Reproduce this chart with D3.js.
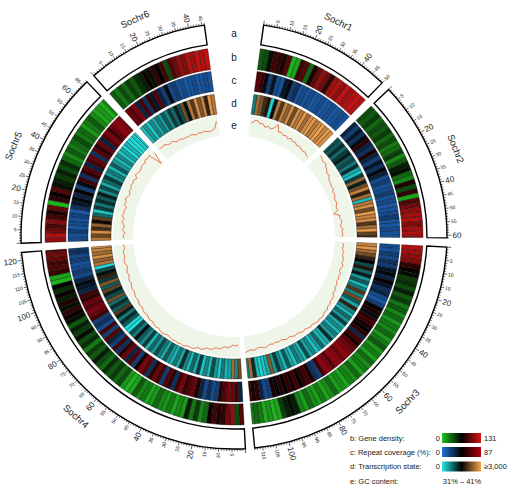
<!DOCTYPE html>
<html>
<head>
<meta charset="utf-8">
<script src="https://cdn.jsdelivr.net/npm/d3@7"></script>
<style>
  body { margin: 0; background: #fff; }
  svg text { font-family: "Liberation Sans", Arial, Helvetica, sans-serif; fill: #1a1a1a; }
</style>
</head>
<body>
<svg id="chart" width="512" height="494"></svg>
<script>
// chromosomes (Mb) and 2 Mb bins
const chromNames = ["Sochr1", "Sochr2", "Sochr3", "Sochr4", "Sochr5", "Sochr6"];
const chromLengths = [50, 61, 113, 123, 67, 46];
const binSize = 2;

// b: gene density (0-131), one list per chromosome
const geneDensity = [
  [35, 40, 60, 85, 80, 75, 90, 5, 10, 85, 90, 30, 75, 95, 110, 100, 80, 115, 120, 110, 125, 115, 120, 125, 120],
  [40, 35, 45, 30, 40, 35, 45, 30, 40, 25, 30, 45, 20, 35, 55, 60, 30, 20, 75, 40, 80, 10, 90, 100, 110, 115, 120, 105, 115, 120, 110],
  [120, 115, 110, 105, 80, 70, 60, 45, 50, 40, 55, 35, 45, 25, 35, 20, 30, 15, 25, 20, 30, 15, 25, 35, 15, 25, 12, 30, 18, 25, 12, 30, 18, 22, 10, 18, 12, 30, 18, 10, 25, 12, 18, 30, 12, 22, 55, 60, 55, 45, 10, 5, 15, 8, 25, 30, 20],
  [90, 40, 110, 100, 80, 75, 85, 70, 30, 20, 45, 25, 55, 15, 20, 10, 25, 15, 20, 30, 15, 10, 25, 20, 35, 10, 5, 15, 40, 30, 45, 35, 50, 30, 40, 55, 35, 45, 25, 50, 40, 60, 45, 55, 35, 60, 70, 80, 60, 75, 55, 70, 50, 65, 5, 10, 80, 90, 85, 95, 100, 90],
  [110, 120, 100, 90, 105, 85, 75, 95, 5, 80, 70, 90, 60, 55, 45, 55, 40, 50, 30, 20, 35, 25, 30, 40, 25, 30, 15, 25, 35, 20, 10, 15, 8, 20],
  [35, 25, 40, 30, 45, 35, 50, 55, 70, 60, 80, 65, 85, 40, 90, 100, 110, 105, 120, 115, 125, 120, 125]
];

// c: repeat coverage (%) (0-87)
const repeatCoverage = [
  [65, 60, 40, 20, 35, 15, 12, 35, 40, 20, 25, 12, 15, 12, 15, 10, 12, 15, 10, 12, 14, 10, 12, 15, 12],
  [30, 20, 35, 25, 40, 55, 30, 25, 50, 30, 20, 35, 25, 40, 30, 15, 20, 12, 15, 20, 12, 15, 10, 12, 15, 20, 12, 10, 15, 12, 10],
  [15, 12, 20, 15, 25, 20, 35, 40, 30, 45, 35, 25, 30, 15, 10, 20, 45, 50, 40, 55, 60, 50, 45, 55, 30, 60, 50, 65, 70, 75, 80, 70, 78, 80, 65, 75, 80, 60, 20, 25, 50, 60, 55, 45, 60, 50, 55, 45, 55, 40, 50, 20, 15, 30, 55, 50, 60],
  [30, 60, 70, 75, 65, 55, 20, 15, 25, 15, 30, 50, 70, 65, 55, 75, 60, 25, 55, 65, 20, 60, 70, 55, 25, 65, 75, 50, 20, 65, 30, 70, 55, 25, 60, 20, 30, 65, 20, 60, 15, 25, 20, 60, 70, 75, 65, 70, 55, 60, 30, 35, 40, 30, 15, 20, 15, 12, 20, 15, 25, 20],
  [15, 12, 20, 10, 15, 12, 18, 10, 25, 35, 40, 30, 45, 20, 40, 60, 25, 55, 65, 30, 60, 70, 25, 65, 55, 70, 30, 65, 75, 60, 70, 80, 75, 70],
  [70, 65, 75, 30, 60, 25, 55, 35, 65, 30, 20, 40, 15, 20, 12, 15, 10, 12, 15, 10, 12, 15, 12]
];

// d: transcription state (0 - >=3000)
const transcription = [
  [700, 2500, 2300, 1900, 1700, 100, 1400, 2600, 2000, 2700, 2400, 2800, 2200, 2800, 2600, 2900, 2500, 2800, 2900, 2600, 2800, 3000, 2700, 2900, 2800],
  [1000, 900, 1200, 800, 1100, 1300, 900, 1000, 700, 1200, 400, 200, 1100, 2400, 1300, 2200, 2700, 1800, 2500, 300, 2600, 2800, 2200, 2900, 2700, 2800, 2000, 2500, 2900, 2100, 1900],
  [2700, 2900, 2500, 2200, 1800, 1500, 1000, 1700, 800, 1300, 500, 900, 300, 700, 2000, 600, 2200, 900, 400, 1800, 600, 300, 800, 500, 1100, 400, 600, 300, 700, 500, 1200, 400, 300, 800, 500, 200, 600, 400, 1000, 300, 500, 700, 200, 400, 900, 300, 600, 1100, 500, 2300, 400, 200, 100, 300, 1200, 2500, 600],
  [2200, 600, 2500, 400, 300, 700, 200, 500, 1000, 300, 600, 200, 1100, 400, 800, 300, 600, 1200, 400, 700, 300, 500, 900, 400, 700, 1000, 500, 800, 300, 1100, 600, 900, 1400, 700, 1000, 50, 100, 900, 1200, 700, 1300, 2000, 900, 1200, 800, 2200, 1000, 1300, 2100, 900, 2300, 1100, 1800, 1400, 1000, 100, 2600, 2400, 2800, 2500, 2700, 2900],
  [2600, 2200, 2800, 1900, 2400, 1600, 2100, 800, 200, 1100, 700, 1200, 900, 1300, 600, 1000, 400, 800, 1100, 500, 700, 300, 900, 500, 300, 600, 200, 400, 100, 300, 100, 50, 200, 100],
  [300, 500, 200, 600, 400, 700, 500, 900, 600, 1100, 800, 1300, 1000, 2200, 1400, 2600, 2000, 2800, 2300, 2700, 1800, 2900, 2600]
];

// e: GC content (%)
const gcContent = [
  [37.5, 39, 39.5, 38, 38.5, 37, 38, 37, 38, 40.5, 37, 37.5, 36.5, 37, 36, 37, 36, 36.5, 35.5, 36, 35.5, 35, 35.5, 34.5, 34.5],
  [39.5, 39, 38.5, 39, 38, 37.5, 36.5, 37, 36, 35.5, 35.5, 35, 35.5, 34.5, 35, 34.5, 34, 34.5, 34, 33.5, 34, 31.5, 34.5, 34, 35, 34.5, 34, 35, 34.5, 35, 34.5],
  [35, 35.5, 35, 36, 35.5, 36, 36.5, 36, 37, 36.5, 36, 37, 36.5, 37, 36.5, 37.5, 37, 38, 37.5, 38.5, 39, 38.5, 39.5, 39, 40, 39.5, 40, 40.5, 40, 40.5, 40, 39.5, 40, 39.5, 39, 39.5, 39, 38.5, 39, 38.5, 38, 38.5, 38, 37.5, 38, 37.5, 38, 37.5, 38, 38.5, 38, 37.5, 38, 38.5, 38, 38.5, 39],
  [35, 35.5, 35, 36, 36.5, 36, 37, 37.5, 37, 38, 38.5, 38, 39, 39.5, 39, 40, 40.5, 40, 40.5, 41, 40.5, 41, 40.5, 41, 40.5, 40, 40.5, 41, 40.5, 40, 40.5, 40, 39.5, 40, 39.5, 39, 39.5, 39, 38.5, 39, 38.5, 38, 38.5, 38, 37.5, 38, 37.5, 37, 37.5, 37, 36.5, 37, 36.5, 36, 36.5, 37, 36.5, 36, 36.5, 36, 35.5, 36],
  [35.5, 36, 35, 36.5, 35.5, 36, 37, 36, 37.5, 36.5, 37, 36, 37.5, 37, 38, 37, 36.5, 37.5, 37, 38, 37.5, 38, 37, 38.5, 38, 37.5, 38, 38.5, 38, 39, 38.5, 39, 32, 38],
  [38, 37.5, 38, 37, 36.5, 37, 36, 35.5, 36, 35, 35.5, 35, 35.5, 35, 34.5, 35, 34.5, 35, 34.5, 34, 34.5, 35, 38.5]
];

const trackLetters = ["a", "b", "c", "d", "e"];
const legendLabels = ["b: Gene density:", "c: Repeat coverage (%):", "d: Transcription state:", "e: GC content:"];
const legendMin = ["0", "0", "0"];
const legendMax = ["131", "87", "\u22653,000"];
const gcRangeLabel = "31% \u2013 41%";

// ---- layout ----
const svg = d3.select("#chart");
const cx = 234, cy = 236;
const topGap = 16, chromGap = 2.5;           // degrees
const ideo = { r0: 193, r1: 213 };
const rad = d => d * Math.PI / 180;

const total = d3.sum(chromLengths);
const degPerMb = (360 - topGap - chromGap * (chromLengths.length - 1)) / total;

let start = topGap / 2;
const chroms = chromNames.map((name, i) => {
  const len = chromLengths[i];
  const end = start + len * degPerMb;
  const c = { name, len, i, a0: start, a1: end, angle: d3.scaleLinear().domain([0, len]).range([start, end]) };
  start = end + chromGap;
  return c;
});

const tracks = [
  { data: geneDensity, r0: 168, r1: 189,
    color: d3.scaleLinear().domain([0, 65.5, 131]).range(["#1fc41f", "#000000", "#d71414"]).clamp(true) },
  { data: repeatCoverage, r0: 146, r1: 166,
    color: d3.scaleLinear().domain([0, 43.5, 87]).range(["#1f72d8", "#000000", "#b3000f"]).clamp(true) },
  { data: transcription, r0: 123, r1: 143,
    color: d3.scaleLinear().domain([0, 1500, 3000]).range(["#22e6e6", "#000000", "#f7a44e"]).clamp(true) }
];
const gcTrack = { r0: 101, r1: 121 };
const gcRadius = d3.scaleLinear().domain([31, 41]).range([gcTrack.r0, gcTrack.r1]);

const g = svg.append("g").attr("transform", `translate(${cx},${cy})`);
const arc = d3.arc();

// ideogram boxes
g.selectAll(".ideo").data(chroms).enter().append("path")
  .attr("d", c => arc({ innerRadius: ideo.r0, outerRadius: ideo.r1, startAngle: rad(c.a0), endAngle: rad(c.a1) }))
  .attr("fill", "#fff").attr("stroke", "#000").attr("stroke-width", 1.4);

// heatmap tracks
tracks.forEach(t => {
  chroms.forEach(c => {
    const vals = t.data[c.i];
    g.append("g").selectAll("path").data(vals).enter().append("path")
      .attr("d", (v, j) => arc({
        innerRadius: t.r0, outerRadius: t.r1,
        startAngle: rad(c.angle(j * binSize)),
        endAngle: rad(c.angle(Math.min((j + 1) * binSize, c.len)))
      }))
      .attr("fill", v => t.color(v))
      .attr("stroke", "#000").attr("stroke-width", 0.35);
  });
});

// GC content track
chroms.forEach(c => {
  g.append("path")
    .attr("d", arc({ innerRadius: gcTrack.r0, outerRadius: gcTrack.r1, startAngle: rad(c.a0), endAngle: rad(c.a1) }))
    .attr("fill", "#edf6e8");
  const line = d3.lineRadial()
    .angle((v, j) => rad(c.angle(Math.min(j * binSize + binSize / 2, c.len))))
    .radius(v => gcRadius(v));
  g.append("path").attr("d", line(gcContent[c.i]))
    .attr("fill", "none").attr("stroke", "#ec6a45").attr("stroke-width", 0.9);
});

// ticks and tick labels
function polar(deg, r) { return [r * Math.sin(rad(deg)), -r * Math.cos(rad(deg))]; }

chroms.forEach(c => {
  const ticks = d3.range(0, c.len + 1, 1);
  g.append("g").selectAll("line").data(ticks).enter().append("line")
    .each(function (m) {
      const deg = c.angle(m);
      const len = m % 20 === 0 ? 4.5 : m % 5 === 0 ? 3.5 : 2;
      const p0 = polar(deg, ideo.r1), p1 = polar(deg, ideo.r1 + len);
      d3.select(this).attr("x1", p0[0]).attr("y1", p0[1]).attr("x2", p1[0]).attr("y2", p1[1]);
    })
    .attr("stroke", "#000").attr("stroke-width", 0.6);

  const labelled = ticks.filter(m => m > 0 && m % 5 === 0);
  g.append("g").selectAll("text").data(labelled).enter().append("text")
    .each(function (m) {
      const deg = c.angle(m);
      const big = m % 20 === 0;
      const p = polar(deg, ideo.r1 + (big ? 5.5 : 4.5));
      const right = deg < 180;
      d3.select(this)
        .attr("transform", `translate(${p[0]},${p[1]}) rotate(${right ? deg - 90 : deg + 90})`)
        .attr("text-anchor", right ? "start" : "end")
        .attr("dy", "0.35em")
        .style("font-size", big ? "8px" : "5px")
        .text(m);
    });

  // chromosome name
  const mid = (c.a0 + c.a1) / 2;
  const bottom = mid > 90 && mid < 270;
  const p = polar(mid, bottom ? 243 : 235);
  g.append("text")
    .attr("transform", `translate(${p[0]},${p[1]}) rotate(${bottom ? mid - 180 : mid})`)
    .attr("text-anchor", "middle")
    .style("font-size", "9.5px")
    .text(c.name);
});

// track letters in the top gap
const letterRadius = [(ideo.r0 + ideo.r1) / 2].concat(tracks.map(t => (t.r0 + t.r1) / 2), [(gcTrack.r0 + gcTrack.r1) / 2]);
g.selectAll(".letter").data(trackLetters).enter().append("text")
  .attr("x", 0).attr("y", (d, i) => -letterRadius[i])
  .attr("dy", "0.35em").attr("text-anchor", "middle")
  .style("font-size", "10px")
  .text(d => d);

// legend
const legend = svg.append("g");
const rowY = [438, 452, 466.5, 481];
const defs = svg.append("defs");
tracks.forEach((t, i) => {
  const grad = defs.append("linearGradient").attr("id", "grad" + i);
  t.color.range().forEach((col, k) => {
    grad.append("stop").attr("offset", (k * 50) + "%").attr("stop-color", col);
  });
  legend.append("rect").attr("x", 442).attr("y", rowY[i] - 5).attr("width", 39).attr("height", 10)
    .attr("fill", `url(#grad${i})`);
  legend.append("text").attr("x", 440).attr("y", rowY[i]).attr("dy", "0.35em")
    .attr("text-anchor", "end").style("font-size", "7.5px").text(legendMin[i]);
  legend.append("text").attr("x", 484).attr("y", rowY[i]).attr("dy", "0.35em")
    .style("font-size", "7.5px").text(legendMax[i]);
});
legend.selectAll(".lab").data(legendLabels).enter().append("text")
  .attr("x", 350).attr("y", (d, i) => rowY[i]).attr("dy", "0.35em")
  .style("font-size", "7.5px").text(d => d);
legend.append("text").attr("x", 462).attr("y", rowY[3]).attr("dy", "0.35em")
  .attr("text-anchor", "middle").style("font-size", "7.5px").text(gcRangeLabel);
</script>
</body>
</html>
